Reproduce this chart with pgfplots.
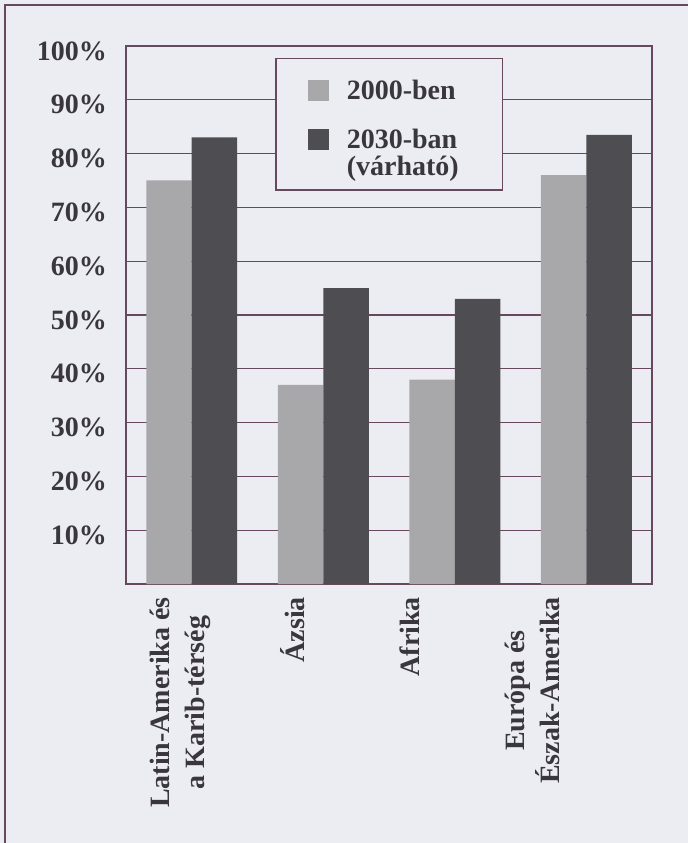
\documentclass[border=0pt]{standalone}
\usepackage{fontspec}
\setmainfont{Liberation Serif}
\usepackage{pgfplots}
\pgfplotsset{compat=1.18}

\definecolor{bg}{RGB}{236,236,243}
\definecolor{frame}{RGB}{104,72,94}
\definecolor{lightbar}{RGB}{168,168,170}
\definecolor{darkbar}{RGB}{78,77,81}
\definecolor{txt}{RGB}{58,54,62}

\newcommand{\lbl}{\fontsize{28bp}{35bp}\selectfont\bfseries}
\newcommand{\leg}{\fontsize{28bp}{27bp}\selectfont\bfseries}

\begin{document}
\begin{tikzpicture}
  % page background and the outer rule on top and left
  \fill[bg] (-126bp,-259bp) rectangle (562bp,584bp);
  \useasboundingbox (-126bp,-259bp) rectangle (562bp,584bp);
  \draw[frame, line width=1.5bp] (-121bp,-259bp) -- (-121bp,579bp) -- (562bp,579bp);

  \begin{axis}[
    scale only axis,
    width=526bp, height=538bp,
    xmin=-0.5, xmax=3.5,
    ymin=0, ymax=100,
    axis line style={frame, line width=1.5bp},
    ymajorgrids,
    grid style={frame, line width=1.3bp},
    major tick length=0pt,
    ytick={10,20,...,100},
    yticklabels={10\%,20\%,30\%,40\%,50\%,60\%,70\%,80\%,90\%,100\%},
    yticklabel style={font=\lbl, text=txt, anchor=east, inner sep=0pt, xshift=-19bp, yshift=-5bp},
    xtick={-0.089,0.770,1.660,2.587},
    xticklabels={{Latin-Amerika és\\a Karib-térség},{Ázsia},{Afrika},{Európa és\\Észak-Amerika}},
    xticklabel style={font=\lbl, text=txt, rotate=90, anchor=east, align=center, inner sep=0pt, xshift=-13bp},
    legend style={
      at={(0.2833,0.9777)}, anchor=north west,
      draw=frame, line width=1.5bp, fill=bg,
      font=\leg, text=txt,
      cells={anchor=base west},
      nodes={inner sep=0pt, text depth=},
      inner xsep=32bp, inner ysep=6bp,
      row sep=13bp,
      /tikz/every odd column/.append style={column sep=18bp},
    },
    legend image code/.code={
      \path[draw=none, fill=none] (0bp,-1.5bp) rectangle (21bp,34.5bp);
      \fill[#1, draw=none] (0bp,-1.5bp) rectangle (21bp,19.5bp);
    },
  ]
    \addplot[ybar, fill=lightbar, draw=none, bar width=0.346, bar shift=-0.173]
      coordinates {(0,75) (1,37) (2,38) (3,76)};
    \addlegendentry{2000-ben}
    \addplot[ybar, fill=darkbar, draw=none, bar width=0.346, bar shift=0.173]
      coordinates {(0,83) (1,55) (2,53) (3,83.5)};
    \addlegendentry{\begin{tabular}[t]{@{}l@{\hspace{12bp}}}2030-ban\\(várható)\end{tabular}}
  \end{axis}
\end{tikzpicture}
\end{document}
